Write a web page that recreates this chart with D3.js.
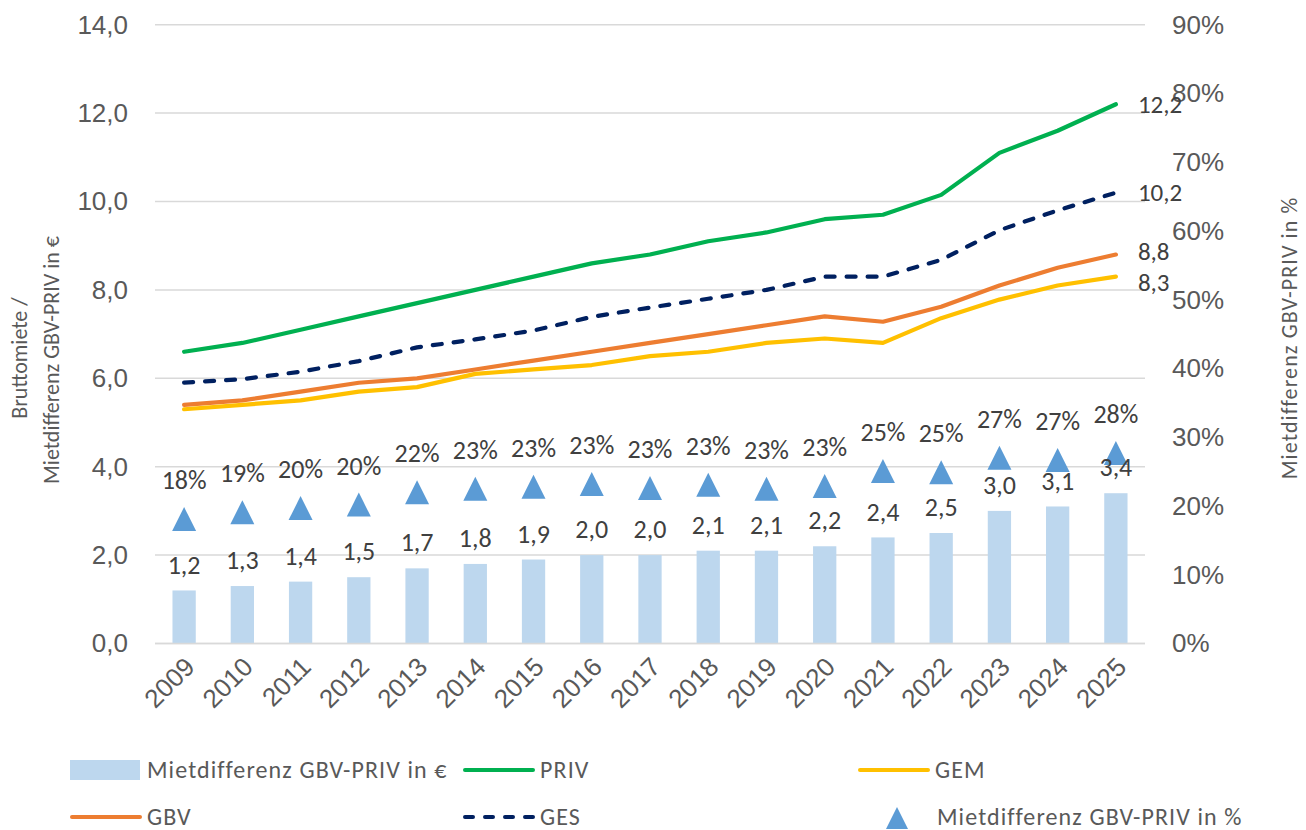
<!DOCTYPE html>
<html>
<head>
<meta charset="utf-8">
<script src="https://cdn.jsdelivr.net/npm/d3@7"></script>
<style>
  body { margin: 0; background: #fff; }
  svg { font-family: Carlito, Calibri, Lato, sans-serif; }
</style>
</head>
<body>
<div id="chart"></div>
<script>
const width = 1306, height = 830;

const years = ["2009", "2010", "2011", "2012", "2013", "2014", "2015", "2016", "2017",
  "2018", "2019", "2020", "2021", "2022", "2023", "2024", "2025"];
// Mietdifferenz GBV-PRIV in €
const diffEuro = [1.2, 1.3, 1.4, 1.5, 1.7, 1.8, 1.9, 2.0, 2.0, 2.1, 2.1, 2.2, 2.4, 2.5, 3.0, 3.1, 3.4];
// Mietdifferenz GBV-PRIV in %
const diffPct = [0.181, 0.191, 0.197, 0.202, 0.220, 0.225, 0.228, 0.232, 0.226, 0.231, 0.225, 0.229,
  0.251, 0.249, 0.270, 0.267, 0.277];
const priv = [6.6, 6.8, 7.1, 7.4, 7.7, 8.0, 8.3, 8.6, 8.8, 9.1, 9.3, 9.6, 9.7, 10.15, 11.1, 11.6, 12.2];
const ges = [5.9, 5.98, 6.15, 6.39, 6.7, 6.88, 7.08, 7.39, 7.6, 7.8, 8.0, 8.3, 8.3, 8.68, 9.35, 9.8, 10.2];
const gbv = [5.4, 5.5, 5.7, 5.9, 6.0, 6.2, 6.4, 6.6, 6.8, 7.0, 7.2, 7.4, 7.28, 7.62, 8.1, 8.5, 8.8];
const gem = [5.3, 5.4, 5.5, 5.7, 5.8, 6.1, 6.2, 6.3, 6.5, 6.6, 6.8, 6.9, 6.8, 7.36, 7.78, 8.1, 8.3];
const leftTicks = [0, 2, 4, 6, 8, 10, 12, 14];
const rightTicks = [0, 0.1, 0.2, 0.3, 0.4, 0.5, 0.6, 0.7, 0.8, 0.9];

const lineSeries = [
  { name: "PRIV", values: priv, color: "#00B050", dash: null, label: "12,2", dy: 0 },
  { name: "GES", values: ges, color: "#002060", dash: "9,12", label: "10,2", dy: 0 },
  { name: "GBV", values: gbv, color: "#ED7D31", dash: null, label: "8,8", dy: -3 },
  { name: "GEM", values: gem, color: "#FFC000", dash: null, label: "8,3", dy: 6 }
];

const de = d3.formatLocale({ decimal: ",", thousands: ".", grouping: [3], currency: ["", "€"] });
const fmt1 = de.format(".1f");
const fmtPct = de.format(".0%");

const plotL = 155, plotR = 1145, plotT = 24.7, plotB = 643.5;
const textGray = "#595959", labelGray = "#404040";

const x = d3.scaleBand().domain(years).range([plotL, plotR]).paddingInner(0.6).paddingOuter(0.3);
const xc = d => x(d) + x.bandwidth() / 2;
const y = d3.scaleLinear().domain([0, 14]).range([plotB, plotT]);
const yR = d3.scaleLinear().domain([0, 0.9]).range([plotB, plotT]);

// Excel-style triangle: as wide as it is tall, centred on its box
const triangle = {
  draw(ctx, size) {
    const h = Math.sqrt(size) / 2;
    ctx.moveTo(0, -h);
    ctx.lineTo(h, h);
    ctx.lineTo(-h, h);
    ctx.closePath();
  }
};
const tri = d3.symbol().type(triangle).size(24 * 24);

const svg = d3.create("svg")
  .attr("width", width)
  .attr("height", height)
  .attr("viewBox", [0, 0, width, height]);

// gridlines
svg.append("g")
  .selectAll("line")
  .data(leftTicks)
  .join("line")
  .attr("x1", plotL).attr("x2", plotR)
  .attr("y1", d => y(d)).attr("y2", d => y(d))
  .attr("stroke", "#d9d9d9").attr("stroke-width", 1.5);

// left axis
const axL = svg.append("g")
  .attr("transform", `translate(${plotL - 20},0)`)
  .call(d3.axisLeft(y).tickValues(leftTicks).tickFormat(fmt1).tickSize(0).tickPadding(7));
axL.select(".domain").remove();
axL.selectAll("text").attr("fill", textGray).attr("font-size", 26).attr("font-family", null);

// right axis
const axR = svg.append("g")
  .attr("transform", `translate(${plotR + 20},0)`)
  .call(d3.axisRight(yR).tickValues(rightTicks).tickFormat(fmtPct).tickSize(0).tickPadding(7));
axR.select(".domain").remove();
axR.selectAll("text").attr("fill", textGray).attr("font-size", 26).attr("font-family", null);

// x axis
const axB = svg.append("g")
  .attr("transform", `translate(0,${plotB})`)
  .call(d3.axisBottom(x).tickSize(0).tickPadding(0));
axB.select(".domain").remove();
axB.selectAll("text")
  .attr("fill", textGray).attr("font-size", 26).attr("font-family", null)
  .attr("text-anchor", "end")
  .attr("dy", null).attr("y", 0)
  .attr("transform", "translate(12,25) rotate(-45)");

// axis titles
svg.append("text")
  .attr("transform", "translate(27,358) rotate(-90)")
  .attr("text-anchor", "middle").attr("fill", textGray).attr("font-size", 22)
  .text("Bruttomiete /");
svg.append("text")
  .attr("transform", "translate(59,360) rotate(-90)")
  .attr("text-anchor", "middle").attr("fill", textGray).attr("font-size", 22)
  .text("Mietdifferenz GBV-PRIV in €");
svg.append("text")
  .attr("transform", "translate(1297,338) rotate(-90)")
  .attr("text-anchor", "middle").attr("fill", textGray).attr("font-size", 22)
  .attr("letter-spacing", 1.1)
  .text("Mietdifferenz GBV-PRIV in %");

// bars
svg.append("g")
  .selectAll("rect")
  .data(years)
  .join("rect")
  .attr("x", d => x(d))
  .attr("width", x.bandwidth())
  .attr("y", (d, i) => y(diffEuro[i]))
  .attr("height", (d, i) => y(0) - y(diffEuro[i]))
  .attr("fill", "#BDD7EE");

// bottom axis line
svg.append("line")
  .attr("x1", plotL).attr("x2", plotR)
  .attr("y1", plotB).attr("y2", plotB)
  .attr("stroke", "#d9d9d9").attr("stroke-width", 1.5);

// lines
const line = d3.line().x((d, i) => xc(years[i])).y(d => y(d));
svg.append("g")
  .selectAll("path")
  .data(lineSeries)
  .join("path")
  .attr("d", d => line(d.values))
  .attr("fill", "none")
  .attr("stroke", d => d.color)
  .attr("stroke-width", 4.2)
  .attr("stroke-linecap", "round")
  .attr("stroke-linejoin", "round")
  .attr("stroke-dasharray", d => d.dash);

// end labels for lines
svg.append("g")
  .selectAll("text")
  .data(lineSeries)
  .join("text")
  .attr("x", d => xc(years[years.length - 1]) + 22)
  .attr("y", d => y(d.values[d.values.length - 1]) + d.dy)
  .attr("dy", "0.35em")
  .attr("fill", labelGray).attr("font-size", 25)
  .text(d => d.label);

// triangles (% on right axis)
svg.append("g")
  .selectAll("path")
  .data(years)
  .join("path")
  .attr("transform", (d, i) => `translate(${xc(d)},${yR(diffPct[i])})`)
  .attr("d", tri)
  .attr("fill", "#5B9BD5");

// bar labels
svg.append("g")
  .selectAll("text")
  .data(years)
  .join("text")
  .attr("x", d => xc(d))
  .attr("y", (d, i) => y(diffEuro[i]) - 26)
  .attr("dy", "0.35em")
  .attr("text-anchor", "middle")
  .attr("fill", labelGray).attr("font-size", 26)
  .text((d, i) => fmt1(diffEuro[i]));

// percent labels
svg.append("g")
  .selectAll("text")
  .data(years)
  .join("text")
  .attr("x", d => xc(d))
  .attr("y", (d, i) => yR(diffPct[i]) - 39)
  .attr("dy", "0.35em")
  .attr("text-anchor", "middle")
  .attr("fill", labelGray).attr("font-size", 26)
  .text((d, i) => fmtPct(diffPct[i]));

// legend
const legendItems = [
  { name: "Mietdifferenz GBV-PRIV in €", kind: "bar", color: "#BDD7EE", x: 70, y: 770 },
  { name: "PRIV", kind: "line", color: "#00B050", x: 463, y: 770 },
  { name: "GEM", kind: "line", color: "#FFC000", x: 858, y: 770 },
  { name: "GBV", kind: "line", color: "#ED7D31", x: 70, y: 817 },
  { name: "GES", kind: "dash", color: "#002060", x: 463, y: 817 },
  { name: "Mietdifferenz GBV-PRIV in %", kind: "tri", color: "#5B9BD5", x: 858, y: 817 }
];
const lg = svg.append("g")
  .selectAll("g")
  .data(legendItems)
  .join("g")
  .attr("transform", d => `translate(${d.x},${d.y})`);
lg.filter(d => d.kind === "bar").append("rect")
  .attr("x", 0).attr("y", -10).attr("width", 70).attr("height", 20).attr("fill", d => d.color);
lg.filter(d => d.kind === "line" || d.kind === "dash").append("line")
  .attr("x1", 2).attr("x2", 70).attr("y1", 0).attr("y2", 0)
  .attr("stroke", d => d.color).attr("stroke-width", 4).attr("stroke-linecap", "round")
  .attr("stroke-dasharray", d => d.kind === "dash" ? "8,12" : null);
lg.filter(d => d.kind === "tri").append("path")
  .attr("transform", "translate(39,1)")
  .attr("d", d3.symbol().type(triangle).size(22 * 22))
  .attr("fill", d => d.color);
lg.append("text")
  .attr("x", d => d.kind === "tri" ? 79 : 77)
  .attr("y", 0).attr("dy", "0.35em")
  .attr("fill", textGray).attr("font-size", 24)
  .attr("letter-spacing", 1.1)
  .text(d => d.name);

d3.select("#chart").append(() => svg.node());
</script>
</body>
</html>
